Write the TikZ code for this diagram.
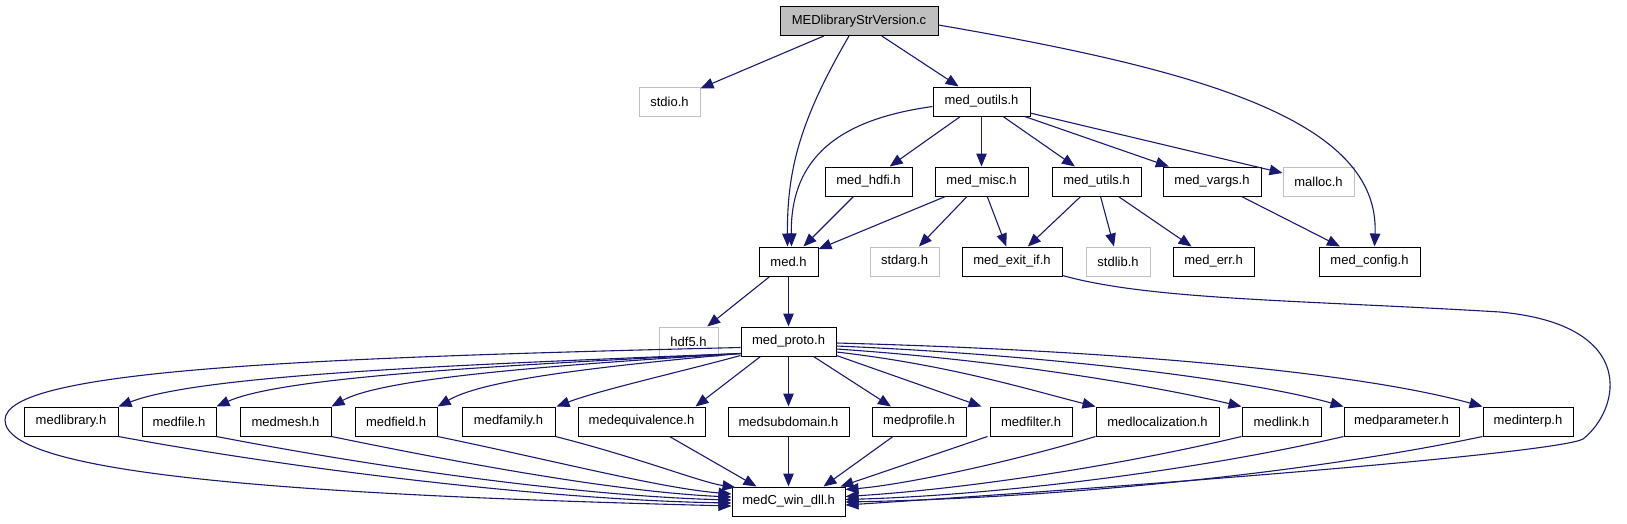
\documentclass[tikz,border=0pt]{standalone}
\usepackage{fontspec}
\setmainfont{Liberation Sans}
\usetikzlibrary{arrows.meta}
\definecolor{mblue}{RGB}{25,25,112}
\definecolor{sysgray}{RGB}{191,191,191}
\tikzset{
  box/.style={draw=black, line width=1pt, minimum height=29pt, inner sep=0pt, font=\fontsize{13}{15}\selectfont},
  sys/.style={box, draw=sysgray},
  edge/.style={draw=mblue, line width=1.1pt, -{Triangle[length=13pt,width=10.5pt]}}
}
\begin{document}
\begin{tikzpicture}[x=1pt,y=-1pt]
\useasboundingbox (0,0) rectangle (1627,523);
% row 0
\node[box, minimum width=158pt, fill=sysgray] (main) at (859,21) {MEDlibraryStrVersion.c};
% row 1
\node[sys, minimum width=61pt] (stdio) at (669.5,101.5) {stdio.h};
\node[box, minimum width=97pt] (outils) at (981.5,101.5) {med\_outils.h};
% row 2
\node[box, minimum width=87pt] (hdfi) at (868.5,181.5) {med\_hdfi.h};
\node[box, minimum width=93pt] (misc) at (981.5,181.5) {med\_misc.h};
\node[box, minimum width=89pt] (utils) at (1096.5,181.5) {med\_utils.h};
\node[box, minimum width=98pt] (vargs) at (1212,181.5) {med\_vargs.h};
\node[sys, minimum width=71pt] (malloc) at (1318.5,181.5) {malloc.h};
% row 3
\node[box, minimum width=59pt] (med) at (788.5,261.5) {med.h};
\node[sys, minimum width=69pt] (stdarg) at (904.5,261.5) {stdarg.h};
\node[box, minimum width=100pt] (exitif) at (1012,261.5) {med\_exit\_if.h};
\node[sys, minimum width=64pt] (stdlib) at (1118,261.5) {stdlib.h};
\node[box, minimum width=81pt] (err) at (1213.5,261.5) {med\_err.h};
\node[box, minimum width=101pt] (config) at (1369.5,261.5) {med\_config.h};
% row 4
\node[sys, minimum width=59pt] (hdf5) at (688.5,341.5) {hdf5.h};
\node[box, minimum width=95pt] (proto) at (788.5,341.5) {med\_proto.h};
% row 5
\node[box, minimum width=94pt] (library) at (71,421.5) {medlibrary.h};
\node[box, minimum width=74pt] (file) at (179,421.5) {medfile.h};
\node[box, minimum width=91pt] (mesh) at (285.5,421.5) {medmesh.h};
\node[box, minimum width=82pt] (field) at (396,421.5) {medfield.h};
\node[box, minimum width=93pt] (family) at (508.5,421.5) {medfamily.h};
\node[box, minimum width=127pt] (equiv) at (641.5,421.5) {medequivalence.h};
\node[box, minimum width=121pt] (subdomain) at (788.5,421.5) {medsubdomain.h};
\node[box, minimum width=94pt] (profile) at (919,421.5) {medprofile.h};
\node[box, minimum width=82pt] (filter) at (1031,421.5) {medfilter.h};
\node[box, minimum width=123pt] (localization) at (1157.5,421.5) {medlocalization.h};
\node[box, minimum width=79pt] (link) at (1281.5,421.5) {medlink.h};
\node[box, minimum width=115pt] (parameter) at (1401.5,421.5) {medparameter.h};
\node[box, minimum width=90pt] (interp) at (1528,421.5) {medinterp.h};
% row 6
\node[box, minimum width=113pt] (dll) at (788.5,501.5) {medC\_win\_dll.h};

% edges from main
\draw[edge] (main) -- (stdio);
\draw[edge] (main) -- (outils);
\draw[edge] ([xshift=-10pt]main.south) .. controls (800,120) and (787,170) .. ([xshift=-1pt]med.north);
\draw[edge] ([yshift=-4pt]main.east) .. controls (1200,70) and (1380,120) .. ([xshift=5pt]config.north);
% edges from outils
\draw[edge] ([yshift=-5pt]outils.west) .. controls (850,118) and (790,150) .. ([xshift=3pt]med.north);
\draw[edge] (outils) -- (hdfi);
\draw[edge] (outils) -- (misc);
\draw[edge] (outils) -- (utils);
\draw[edge] (outils) -- (vargs);
\draw[edge] (outils) -- (malloc);
% row 2 edges
\draw[edge] (hdfi) -- (med);
\draw[edge] (misc) -- (med);
\draw[edge] (misc) -- (stdarg);
\draw[edge] (misc) -- (exitif);
\draw[edge] (utils) -- (exitif);
\draw[edge] (utils) -- (stdlib);
\draw[edge] (utils) -- (err);
\draw[edge] (vargs) -- (config);
% med edges
\draw[edge] (med) -- (hdf5);
\draw[edge] (med) -- (proto);
% exitif loop to dll
\draw[edge] ([yshift=1pt]exitif.south east) .. controls (1150,300) and (1300,300) .. (1500,312)
  .. controls (1640,325) and (1620,410) .. (1583,439)
  .. controls (1560,452) and (1200,482) .. ([yshift=-3.5pt]dll.east);
% proto loop to dll
\draw[edge] ([yshift=-6pt]proto.west) .. controls (300,358) and (5,370) .. (5,420)
  .. controls (5,475) and (300,495) .. ([yshift=-4.5pt]dll.west);
% proto to left headers
\draw[edge] ([yshift=3pt]proto.south west) .. controls (450,365) and (200,375) .. (library.north east);
\draw[edge] ([yshift=3pt]proto.south west) .. controls (480,366) and (280,378) .. (file.north east);
\draw[edge] ([yshift=3pt]proto.south west) .. controls (520,367) and (380,380) .. (mesh.north east);
\draw[edge] ([yshift=3pt]proto.south west) .. controls (570,369) and (480,382) .. (field.north east);
\draw[edge] ([yshift=1pt]proto.south west) .. controls (680,372) and (600,390) .. ([xshift=1pt]family.north east);
\draw[edge] ([xshift=20pt]proto.south west) -- ([xshift=-10pt]equiv.north east);
\draw[edge] (proto) -- (subdomain);
\draw[edge] ([xshift=-23pt]proto.south east) -- ([xshift=-28pt]profile.north);
\draw[edge] ([yshift=1pt]proto.south east) -- ([xshift=-8pt]filter.north west);
% proto to right headers
\draw[edge] ([yshift=-10.5pt]proto.east) .. controls (950,365) and (1030,390) .. (localization.north west);
\draw[edge] ([yshift=-7.5pt]proto.east) .. controls (1000,360) and (1150,385) .. (link.north west);
\draw[edge] ([yshift=-4.5pt]proto.east) .. controls (1050,355) and (1250,380) .. (parameter.north west);
\draw[edge] ([yshift=-1.5pt]proto.east) .. controls (1100,350) and (1350,370) .. (interp.north west);
% headers to dll
\draw[edge] (library.south east) .. controls (300,470) and (550,500) .. ([yshift=-1.5pt]dll.west);
\draw[edge] (file.south east) .. controls (380,468) and (580,496) .. ([yshift=1.5pt]dll.west);
\draw[edge] (mesh.south east) .. controls (470,465) and (620,492) .. ([yshift=4.5pt]dll.west);
\draw[edge] (field.south east) .. controls (560,462) and (660,488) .. ([yshift=7.5pt]dll.west);
\draw[edge] (family.south east) .. controls (640,458) and (700,482) .. ([xshift=4pt,yshift=-1pt]dll.north west);
\draw[edge] ([xshift=28pt]equiv.south) -- ([xshift=25pt]dll.north west);
\draw[edge] (subdomain) -- (dll);
\draw[edge] ([xshift=-26pt]profile.south) -- ([xshift=-22pt]dll.north east);
\draw[edge] ([xshift=-2pt]filter.south west) -- ([xshift=-5pt]dll.north east);
\draw[edge] (localization.south west) .. controls (1000,465) and (900,485) .. ([yshift=-3pt]dll.north east);
\draw[edge] (link.south west) .. controls (1100,470) and (950,490) .. ([yshift=5pt]dll.east);
\draw[edge] (parameter.south west) .. controls (1200,470) and (1000,495) .. ([yshift=2pt]dll.east);
\draw[edge] (interp.south west) .. controls (1300,475) and (1050,498) .. ([yshift=-0.5pt]dll.east);
\end{tikzpicture}
\end{document}
